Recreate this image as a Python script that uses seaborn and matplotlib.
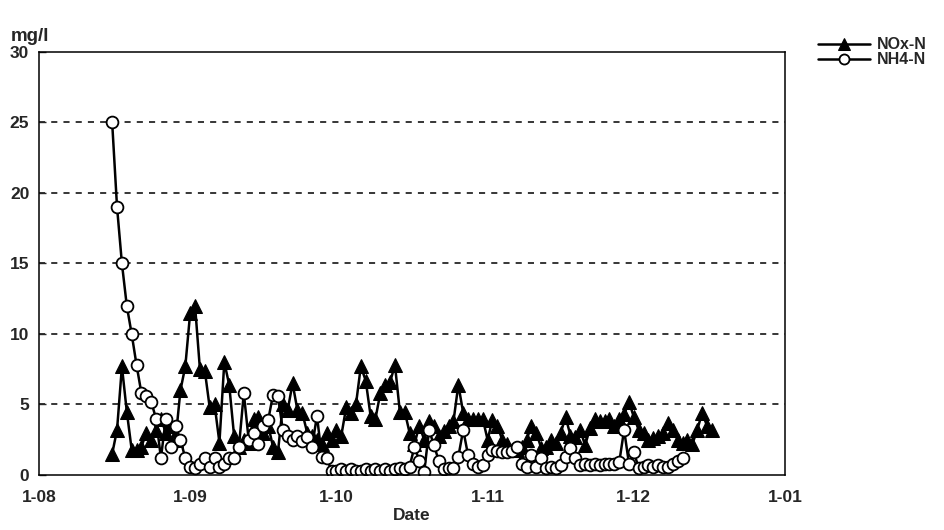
import matplotlib
matplotlib.use("Agg")
import matplotlib.pyplot as plt
import matplotlib.dates as mdates
from matplotlib.ticker import FuncFormatter
import seaborn as sns
import pandas as pd

# ---- data (daily samples) ----
nox_start = "2000-08-16"
nox_values = [
    1.5, 3.2, 7.7, 4.5, 1.8, 1.8, 2.0, 3.0, 2.5, 3.2,
    4.0, 3.0, 3.5, 2.5, 6.0, 7.7, 11.5, 12.0, 7.5, 7.4,
    4.8, 5.0, 2.3, 8.0, 6.4, 2.8, 2.0, 2.5, 2.3, 4.0,
    4.1, 3.0, 3.5, 2.0, 1.6, 5.0, 4.6, 6.5, 4.6, 4.4,
    3.0, 2.8, 2.5, 2.2, 3.0, 2.5, 3.2, 2.8, 4.8, 4.4,
    5.0, 7.7, 6.7, 4.2, 4.0, 5.8, 6.4, 6.6, 7.8, 4.5,
    4.5, 3.0, 2.2, 3.5, 2.5, 3.8, 3.5, 2.8, 3.1, 3.5,
    3.8, 6.4, 4.4, 4.0, 4.0, 4.0, 4.0, 2.5, 3.9, 3.5,
    2.5, 2.2, 1.8, 1.8, 2.0, 2.5, 3.5, 3.0, 1.9, 2.0,
    2.5, 2.3, 3.0, 4.1, 2.8, 2.7, 3.2, 2.1, 3.3, 4.0,
    3.8, 3.8, 4.0, 3.5, 4.0, 4.3, 5.2, 4.1, 3.2, 3.0,
    2.5, 2.6, 2.8, 3.0, 3.7, 3.2, 2.5, 2.3, 2.5, 2.2,
    3.2, 4.4, 3.5, 3.2,
]
nh4_start = "2000-08-16"
nh4_values = [
    25.0, 19.0, 15.0, 12.0, 10.0, 7.8, 5.8, 5.6, 5.2, 4.0,
    1.2, 4.0, 2.0, 3.5, 2.5, 1.2, 0.6, 0.5, 0.8, 1.2,
    0.6, 1.2, 0.6, 0.8, 1.2, 1.2, 2.0, 5.8, 2.5, 3.0,
    2.2, 3.5, 3.9, 5.7, 5.6, 3.2, 2.8, 2.5, 2.8, 2.4,
    2.7, 2.0, 4.2, 1.3, 1.2, 0.3, 0.3, 0.4, 0.3, 0.4,
    0.3, 0.3, 0.4, 0.3, 0.4, 0.3, 0.4, 0.3, 0.4, 0.5,
    0.4, 0.6, 2.0, 1.0, 0.2, 3.2, 2.1, 1.0, 0.4, 0.5,
    0.5, 1.3, 3.2, 1.4, 0.8, 0.6, 0.7, 1.4, 1.8, 1.7,
    1.6, 1.6, 1.7, 2.0, 0.8, 0.6, 1.4, 0.6, 1.2, 0.5,
    0.6, 0.5, 0.7, 1.3, 1.9, 1.2, 0.7, 0.8, 0.7, 0.8,
    0.7, 0.8, 0.8, 0.8, 0.9, 3.2, 0.8, 1.6, 0.5, 0.6,
    0.7, 0.6, 0.7, 0.6, 0.6, 0.8, 1.0, 1.2,
]
series_labels = ["NOx-N", "NH4-N"]
x_min, x_max = "2000-08-01", "2001-01-01"
y_ticks = [0, 5, 10, 15, 20, 25, 30]

nox = pd.DataFrame({"date": pd.date_range(nox_start, periods=len(nox_values), freq="D"),
                    "value": nox_values})
nh4 = pd.DataFrame({"date": pd.date_range(nh4_start, periods=len(nh4_values), freq="D"),
                    "value": nh4_values})

sns.set_style("white")
plt.rcParams["font.family"] = ["Liberation Sans", "DejaVu Sans"]

fig = plt.figure(figsize=(9.45, 5.3), dpi=100)
ax = fig.add_axes([0.0413, 0.1038, 0.7894, 0.7981])

sns.lineplot(data=nox, x="date", y="value", ax=ax, color="black", linewidth=1.8,
             marker="^", markersize=10, markerfacecolor="black", markeredgecolor="black",
             label=series_labels[0])
sns.lineplot(data=nh4, x="date", y="value", ax=ax, color="black", linewidth=1.8,
             marker="o", markersize=8.5, markerfacecolor="white", markeredgecolor="black",
             markeredgewidth=1.3, label=series_labels[1])

ax.set_xlim(pd.Timestamp(x_min), pd.Timestamp(x_max))
ax.set_ylim(0, 30)
ax.set_yticks(y_ticks)
ax.xaxis.set_major_locator(mdates.MonthLocator())
ax.xaxis.set_major_formatter(FuncFormatter(
    lambda v, p: f"{mdates.num2date(v).day}-{mdates.num2date(v).month:02d}"))

for yv in y_ticks[1:-1]:
    ax.axhline(yv, color="black", linewidth=1.1, linestyle=(0, (4, 4)), zorder=0.5)

for s in ax.spines.values():
    s.set_visible(True)
    s.set_color("black")
    s.set_linewidth(1.1)

ax.tick_params(axis="y", direction="in", length=5, width=1, left=True, labelsize=12.5, pad=7)
ax.tick_params(axis="x", length=0, labelsize=12.5, pad=11)
for lab in ax.get_xticklabels() + ax.get_yticklabels():
    lab.set_fontweight("bold")

ax.set_xlabel("Date", fontsize=12.5, fontweight="bold", labelpad=2)
ax.set_ylabel("")
fig.text(0.011, 0.915, "mg/l", fontsize=13.5, fontweight="bold", ha="left", va="bottom")

leg = ax.legend(loc="upper left", bbox_to_anchor=(1.035, 1.05), frameon=False,
                handlelength=3.3, handletextpad=0.4, fontsize=11.5, markerscale=0.85,
                borderaxespad=0, labelspacing=0.0)
for t in leg.get_texts():
    t.set_fontweight("bold")

fig.savefig("out.png", dpi=100, facecolor="white")
